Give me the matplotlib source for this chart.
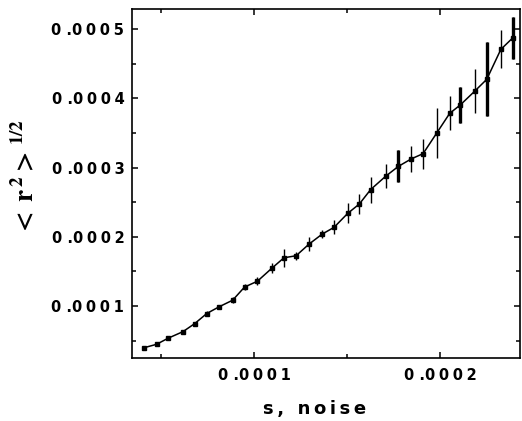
import matplotlib
matplotlib.use('Agg')
import matplotlib.pyplot as plt
from matplotlib.ticker import MultipleLocator, FuncFormatter

# noise level s and rms displacement <r^2>^(1/2)
s_noise = [40.9, 47.6, 53.8, 61.8, 68.1, 74.6, 81.3, 88.5, 94.9, 101.8,
           109.5, 116.1, 122.6, 129.6, 136.7, 143.0, 150.4, 156.6, 162.7, 170.7,
           177.6, 184.6, 190.9, 198.2, 205.2, 210.8, 218.6, 225.1, 232.7, 239.1]
r_rms = [39.8, 44.7, 53.5, 63.0, 74.6, 89.2, 99.0, 108.4, 127.4, 135.8,
         154.4, 169.7, 172.6, 189.5, 204.0, 213.6, 233.9, 247.3, 268.2, 287.3,
         301.7, 312.6, 320.1, 349.8, 378.3, 390.2, 410.2, 427.4, 470.7, 487.3]
r_err = [2.9, 2.9, 2.9, 2.9, 2.9, 4.3, 2.9, 4.3, 4.3, 5.8,
         7.2, 13.0, 5.8, 10.0, 5.8, 10.0, 14.4, 14.4, 18.8, 17.3,
         23.1, 18.8, 21.7, 36.1, 24.5, 26.0, 31.8, 53.4, 27.4, 30.3]

# values above are in units of 1e-6
x = [v * 1e-6 for v in s_noise]
y = [v * 1e-6 for v in r_rms]
e = [v * 1e-6 for v in r_err]

# bars that look heavier in the original
thick = [20, 25, 27, 29]

plt.rcParams['mathtext.fontset'] = 'stix'

fig = plt.figure(figsize=(5.22, 4.21), dpi=100)
ax = fig.add_axes([0.2529, 0.1496, 0.7433, 0.829])

ax.plot(x, y, color='black', lw=1.1, marker='s', markersize=3.4, zorder=3)
ax.errorbar(x, y, yerr=e, fmt='none', ecolor='black', elinewidth=1.0, capsize=0)
ax.errorbar([x[i] for i in thick], [y[i] for i in thick],
            yerr=[e[i] for i in thick], fmt='none', ecolor='black',
            elinewidth=2.4, capsize=0)

ax.set_xlim(3.44e-5, 2.43e-4)
ax.set_ylim(2.49e-5, 5.29e-4)

ax.xaxis.set_major_locator(MultipleLocator(1e-4))
ax.xaxis.set_minor_locator(MultipleLocator(5e-5))
ax.yaxis.set_major_locator(MultipleLocator(1e-4))
ax.yaxis.set_minor_locator(MultipleLocator(5e-5))


def spaced(v, pos):
    txt = f'{v:.4f}'
    return txt[0] + ' .' + '\u2005'.join(txt[2:])


ax.xaxis.set_major_formatter(FuncFormatter(spaced))
ax.yaxis.set_major_formatter(FuncFormatter(spaced))

ax.tick_params(which='both', direction='in', top=True, right=True, width=1.1)
ax.tick_params(which='major', length=4.5)
ax.tick_params(which='minor', length=3)
ax.tick_params(axis='y', pad=5.5)
ax.tick_params(axis='x', pad=7)
for lab in ax.get_xticklabels() + ax.get_yticklabels():
    lab.set_fontweight('bold')
    lab.set_fontsize(10.5)

for sp in ax.spines.values():
    sp.set_linewidth(1.2)

ax.set_xlabel('\u2009'.join('s, noise'), fontsize=13, fontweight='bold')
ax.xaxis.set_label_coords(0.47, -0.12)
ax.set_ylabel(r'$\mathbf{<\;r^{\,2}>^{\,1/2}}$', fontsize=19.5)
ax.yaxis.set_label_coords(-0.237, 0.52)

fig.savefig('out.png', dpi=100)
